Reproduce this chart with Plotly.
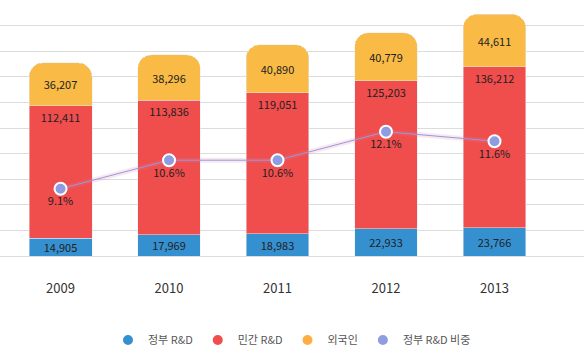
import plotly.graph_objects as go

years = ["2009", "2010", "2011", "2012", "2013"]
gov = [14905, 17969, 18983, 22933, 23766]
private = [112411, 113836, 119051, 125203, 136212]
foreign = [36207, 38296, 40890, 40779, 44611]
gov_share = [9.1, 10.6, 10.6, 12.1, 11.6]

c_gov = "#3590d0"
c_priv = "#f04d4d"
c_for = "#f9bb45"
c_line = "#8e9de0"
font_family = "Noto Sans CJK KR, Noto Sans, sans-serif"
txt = dict(size=11, color="#222")

fmt = lambda v: f"{v:,}"

fig = go.Figure()
fig.add_trace(go.Bar(x=years, y=gov, name="정부 R&D", marker_color=c_gov,
                     text=[fmt(v) for v in gov], textposition="inside",
                     insidetextanchor="middle", insidetextfont=txt, showlegend=False))
fig.add_trace(go.Bar(x=years, y=private, name="민간 R&D", marker_color=c_priv,
                     text=["<br>" + fmt(v) for v in private], textposition="inside",
                     insidetextanchor="end", insidetextfont=txt, showlegend=False))
fig.add_trace(go.Bar(x=years, y=foreign, name="외국인", marker_color=c_for,
                     text=[fmt(v) for v in foreign], textposition="inside",
                     insidetextanchor="middle", insidetextfont=txt, showlegend=False))
# soft glow under the share line
fig.add_trace(go.Scatter(x=years, y=gov_share, yaxis="y2", mode="lines",
                         line=dict(color="rgba(240,120,160,0.18)", width=5),
                         hoverinfo="skip", showlegend=False))
fig.add_trace(go.Scatter(x=years, y=gov_share, name="정부 R&D 비중", yaxis="y2",
                         mode="lines+markers+text",
                         line=dict(color=c_line, width=1),
                         marker=dict(color=c_line, size=12, line=dict(color="white", width=2)),
                         text=[f"{v}%" for v in gov_share], textposition="bottom center",
                         textfont=txt,
                         showlegend=False))

# legend entries (circles)
for name, col in [("정부 R&D", c_gov), ("민간 R&D", c_priv), ("외국인", "#ffad45"), ("정부 R&D 비중", c_line)]:
    fig.add_trace(go.Scatter(x=[None], y=[None], mode="markers", name=name,
                             marker=dict(color=col, size=14,
                                         line=dict(color="white", width=1 if name != "정부 R&D 비중" else 2)),
                             showlegend=True))

D = 21660
fig.update_layout(
    width=584, height=349,
    margin=dict(l=0, r=0, t=0, b=93, autoexpand=False),
    barmode="stack",
    bargap=0.42,
    barcornerradius=14,
    paper_bgcolor="white", plot_bgcolor="white",
    font=dict(family=font_family, size=11, color="#222"),
    uniformtext=dict(minsize=11, mode="show"),
    xaxis=dict(type="category", range=[-0.558, 4.825], showgrid=False,
               showline=False, ticks="", tickfont=dict(size=13, color="#333"),
               ticklabelstandoff=23, automargin=False),
    yaxis=dict(range=[0, 10 * D], dtick=D, tick0=0, showticklabels=False,
               gridcolor="#dcdcdc", gridwidth=1, zeroline=True,
               zerolinecolor="#dcdcdc", zerolinewidth=1, fixedrange=True,
               automargin=False),
    yaxis2=dict(range=[5.56, 19.03], overlaying="y", side="right",
                showgrid=False, showticklabels=False, zeroline=False, automargin=False),
    legend=dict(orientation="h", traceorder="normal", x=0.5, xanchor="center",
                yref="container", y=0.026, yanchor="middle",
                font=dict(size=11, color="#555"), itemsizing="constant"),
)

fig.write_html("out.html")
